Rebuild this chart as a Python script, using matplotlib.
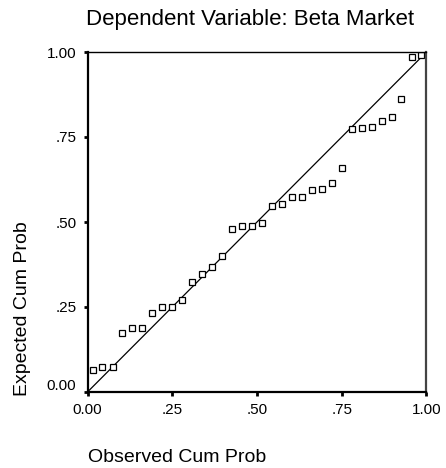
import matplotlib
matplotlib.use("Agg")
import matplotlib.pyplot as plt
import matplotlib.transforms as mtransforms

plt.rcParams["font.family"] = ["Liberation Sans", "DejaVu Sans"]

observed = [0.015, 0.044, 0.074, 0.103, 0.132, 0.162, 0.191, 0.221, 0.250, 0.279,
            0.309, 0.338, 0.368, 0.397, 0.426, 0.456, 0.485, 0.515, 0.544, 0.574,
            0.603, 0.632, 0.662, 0.691, 0.721, 0.750, 0.779, 0.809, 0.838, 0.868,
            0.897, 0.926, 0.956, 0.985]
expected = [0.065, 0.074, 0.074, 0.174, 0.187, 0.187, 0.231, 0.249, 0.249, 0.271,
            0.324, 0.348, 0.369, 0.401, 0.480, 0.489, 0.489, 0.498, 0.547, 0.552,
            0.574, 0.574, 0.593, 0.598, 0.614, 0.660, 0.773, 0.776, 0.780, 0.797,
            0.810, 0.863, 0.984, 0.991]

ticks = [0.0, 0.25, 0.5, 0.75, 1.0]
tick_labels = ["0.00", ".25", ".50", ".75", "1.00"]

fig = plt.figure(figsize=(4.46, 4.68), dpi=100)
ax = fig.add_axes([87.5 / 446, 76 / 468, 339 / 446, 340 / 468])

ax.plot([0, 1], [0, 1], color="black", lw=0.9)
ax.plot(observed, expected, linestyle="none", marker="s", markersize=5,
        markerfacecolor="white", markeredgecolor="black", markeredgewidth=0.9)

ax.set_xlim(0, 1)
ax.set_ylim(0, 1)
ax.set_xticks(ticks)
ax.set_xticklabels(tick_labels)
ax.set_yticks(ticks)
ax.set_yticklabels(tick_labels)
ax.tick_params(direction="out", length=3, width=2, labelsize=11)
ax.tick_params(axis="y", pad=5)
ax.tick_params(axis="x", pad=5)

# unterstes Y-Label etwas nach oben schieben (wie im Original)
lbl0 = ax.get_yticklabels()[0]
lbl0.set_transform(lbl0.get_transform() +
                   mtransforms.ScaledTranslation(0, 8 / 100, fig.dpi_scale_trans))

ax.spines["left"].set_linewidth(1.6)
ax.spines["bottom"].set_linewidth(1.6)
ax.spines["top"].set_linewidth(1.0)
ax.spines["right"].set_linewidth(1.6)
ax.spines["right"].set_color("#444444")

fig.text(250 / 446, 1 - 20 / 468, "Dependent Variable: Beta Market",
         ha="center", va="center", fontsize=16)
fig.text(177 / 446, 1 - 457 / 468, "Observed Cum Prob",
         ha="center", va="center", fontsize=14)
fig.text(23 / 446, 1 - 309 / 468, "Expected Cum Prob",
         ha="center", va="center", rotation=90, fontsize=14)

fig.savefig("out.png", dpi=100)
